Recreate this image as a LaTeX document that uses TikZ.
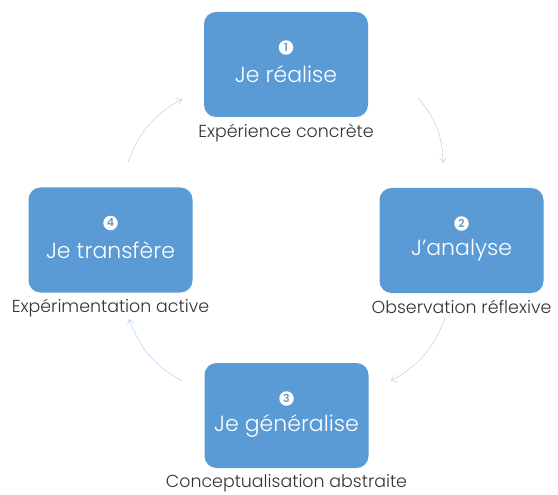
\documentclass[tikz,border=0pt]{standalone}
\usepackage{fontspec}
\setmainfont{Poppins}[UprightFont=* Light]
\usepackage{tikz}
\usetikzlibrary{arrows.meta, positioning, calc}
\definecolor{kolb-blue}{HTML}{5B9BD5}
\definecolor{kolb-arrow}{HTML}{A4C8EA}
\definecolor{kolb-text}{HTML}{333333}

\begin{document}
\begin{tikzpicture}[
    x=1pt, y=1pt,
    stage/.style={fill=kolb-blue, draw=none, minimum width=164pt, minimum height=105pt, rounded corners=12pt},
    num/.style={circle, fill=white, inner sep=0pt, minimum size=14.5pt, text=kolb-blue, font=\fontsize{11}{11}\selectfont\bfseries},
    stagetext/.style={text=white, font=\fontsize{22}{24}\selectfont},
    caption/.style={text=kolb-text, font=\fontsize{17.4}{20}\selectfont},
    cycle/.style={-{Straight Barb[length=5pt, width=7pt]}, draw=kolb-arrow, thin}
]
    \useasboundingbox (0,0) rectangle (558,-495);

    % Stage boxes
    \node (b1) [stage] at (286,-64.5) {};
    \node (b2) [stage] at (461.5,-240.5) {};
    \node (b3) [stage] at (286.5,-415.5) {};
    \node (b4) [stage] at (110.5,-240) {};

    % Numbers and titles
    \node (n1) [num] at ($(b1)+(0,17)$) {1};
    \node (t1) [stagetext] at ($(b1)+(0,-10)$) {Je réalise};
    \node (n2) [num] at ($(b2)+(0,17)$) {2};
    \node (t2) [stagetext] at ($(b2)+(0,-10)$) {J’analyse};
    \node (n3) [num] at ($(b3)+(0,17)$) {3};
    \node (t3) [stagetext] at ($(b3)+(0,-10)$) {Je généralise};
    \node (n4) [num] at ($(b4)+(0,17)$) {4};
    \node (t4) [stagetext] at ($(b4)+(0,-10)$) {Je transfère};

    % Captions
    \node (c1) [caption, below=3pt of b1] {Expérience concrète};
    \node (c2) [caption, below=3pt of b2] {Observation réflexive};
    \node (c3) [caption, below=3pt of b3] {Conceptualisation abstraite};
    \node (c4) [caption, below=3pt of b4] {Expérimentation active};

    % Cycle arrows
    \coordinate (s12) at (418,-98);  \coordinate (e12) at (443,-163);
    \coordinate (s23) at (445,-318); \coordinate (e23) at (391,-381);
    \coordinate (s34) at (182,-381); \coordinate (e34) at (129,-319);
    \coordinate (s41) at (128,-162); \coordinate (e41) at (182,-99);
    \draw[cycle] (s12) to[bend left=20] (e12);
    \draw[cycle] (s23) to[bend left=20] (e23);
    \draw[cycle] (s34) to[bend left=20] (e34);
    \draw[cycle] (s41) to[bend left=20] (e41);
\end{tikzpicture}
\end{document}
